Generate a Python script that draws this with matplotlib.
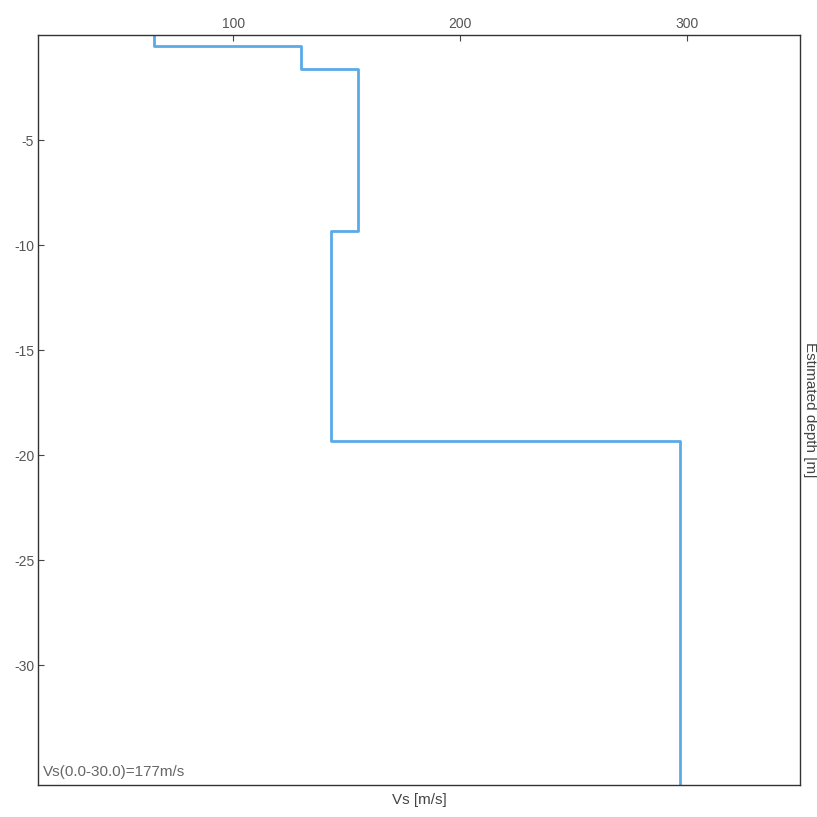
import matplotlib.pyplot as plt

plt.rcParams['font.family'] = ['Liberation Sans', 'DejaVu Sans']
plt.rcParams['axes.unicode_minus'] = False

# layer velocities (m/s) and layer bottom depths (m), read from the profile
vs = [65, 130, 155, 143, 297]
depth_bottom = [0.5, 1.6, 9.3, 19.3, 35.7]

xticks = [100, 200, 300]
yticks = [-30, -25, -20, -15, -10, -5]
note = "Vs(0.0-30.0)=177m/s"

# build step outline
xs = []
ys = []
top = 0.0
for v, b in zip(vs, depth_bottom):
    xs += [v, v]
    ys += [-top, -b]
    top = b

fig = plt.figure(figsize=(8.17, 8.17), dpi=100)
ax = fig.add_axes([0.047, 0.039, 0.932, 0.918])
ax.plot(xs, ys, color='#5aaae8', linewidth=2)

ax.set_xlim(14, 350)
ax.set_ylim(-35.7, 0)
ax.set_xticks(xticks)
ax.set_yticks(yticks)
ax.xaxis.tick_top()
ax.tick_params(direction='in', length=4, pad=3, labelsize=10, colors='#444444', labelcolor='#555555')
for s in ax.spines.values():
    s.set_color('#333333')
    s.set_linewidth(1)

ax.set_xlabel("Vs [m/s]", fontsize=11, color='#444444', labelpad=6)
ax.xaxis.set_label_position('bottom')
ax.yaxis.set_label_position('right')
ax.set_ylabel("Estimated depth [m]", fontsize=11, color='#444444', rotation=270, labelpad=2,
              va='bottom')

ax.text(0.006, 0.008, note, transform=ax.transAxes, fontsize=11, color='#666666',
        ha='left', va='bottom')

fig.savefig("out.png", dpi=100)
